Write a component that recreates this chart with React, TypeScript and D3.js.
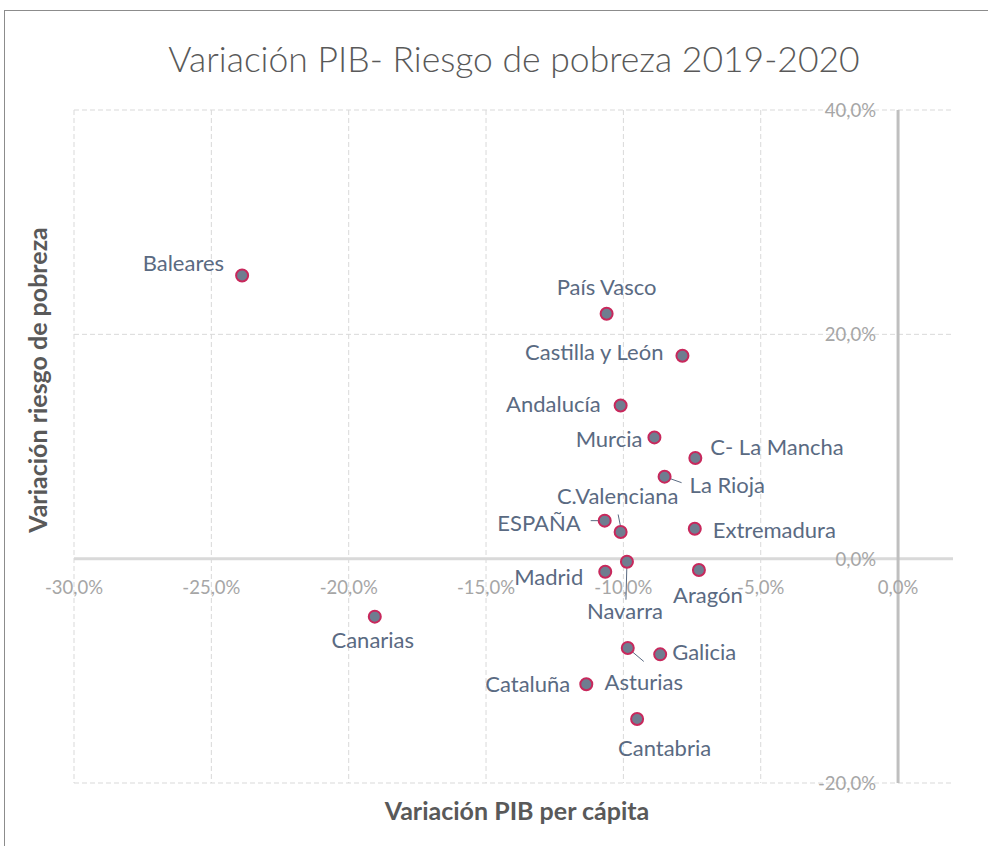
import * as d3 from "d3";

const regions = [
  "Baleares", "País Vasco", "Castilla y León", "Andalucía", "Murcia",
  "C- La Mancha", "La Rioja", "C.Valenciana", "ESPAÑA", "Extremadura",
  "Madrid", "Navarra", "Aragón", "Canarias", "Asturias", "Galicia",
  "Cataluña", "Cantabria",
];
// variación PIB per cápita 2019-2020
const gdpChange = [
  -0.2388, -0.1061, -0.0785, -0.101, -0.0887, -0.0738, -0.085, -0.101,
  -0.1068, -0.074, -0.1066, -0.0987, -0.0725, -0.1905, -0.0984, -0.0866,
  -0.1135, -0.095,
];
// variación riesgo de pobreza 2019-2020
const povertyChange = [
  0.2525, 0.2184, 0.1809, 0.1366, 0.1081, 0.0897, 0.0731, 0.0238, 0.0339,
  0.0267, -0.0116, -0.0027, -0.0101, -0.0517, -0.0796, -0.0853, -0.112,
  -0.1429,
];
const xTicks = [-0.3, -0.25, -0.2, -0.15, -0.1, -0.05, 0];
const yTicks = [-0.2, 0, 0.2, 0.4];

// label placement relative to the marker (px), plus optional leader line
const labelPos: Record<string, { dx: number; dy: number; anchor: string; leader?: number[] }> = {
  Baleares: { dx: -18, dy: -13, anchor: "end" },
  "País Vasco": { dx: 0, dy: -27, anchor: "middle" },
  "Castilla y León": { dx: -19, dy: -4, anchor: "end" },
  Andalucía: { dx: -20, dy: -2, anchor: "end" },
  Murcia: { dx: -12, dy: 1, anchor: "end" },
  "C- La Mancha": { dx: 15, dy: -12, anchor: "start" },
  "La Rioja": { dx: 25, dy: 8, anchor: "start", leader: [0, 0, 17, 6] },
  "C.Valenciana": { dx: -3, dy: -36, anchor: "middle", leader: [-2.5, -17.5, 0, -5] },
  ESPAÑA: { dx: -24, dy: 2, anchor: "end", leader: [-14, 0, -4, 0] },
  Extremadura: { dx: 18, dy: 1, anchor: "start" },
  Madrid: { dx: -22, dy: 5, anchor: "end" },
  Navarra: { dx: -2, dy: 49, anchor: "middle", leader: [0, 1, -1, 38] },
  Aragón: { dx: 9, dy: 25, anchor: "middle" },
  Canarias: { dx: -2, dy: 23, anchor: "middle" },
  Asturias: { dx: 16, dy: 34, anchor: "middle", leader: [0, 0, 16, 13.5] },
  Galicia: { dx: 12, dy: -3, anchor: "start" },
  Cataluña: { dx: -16, dy: -1, anchor: "end" },
  Cantabria: { dx: 27.5, dy: 29, anchor: "middle" },
};

const width = 988;
const height = 846;
const font = "Lato, 'Open Sans', sans-serif";
const labelColor = "#5a6a82";

const locale = d3.formatLocale({
  decimal: ",",
  thousands: ".",
  grouping: [3],
  currency: ["", "€"],
  minus: "-",
});
const pct = locale.format(".1%");

export default function App() {
  const x = d3.scaleLinear([-0.3, 0.02], [74, 953]);
  const y = d3.scaleLinear([-0.2, 0.4], [783, 110]);
  const [y0, y1] = y.range();
  const [x0, x1] = x.range();

  return (
    <svg
      width={width}
      height={height}
      style={{ position: "absolute", left: 0, top: 0, background: "#fff" }}
      fontFamily={font}
    >
      <rect x={4.5} y={10.5} width={width + 10} height={height} fill="#fff" stroke="#8c8c8c" />
      <text
        x={514}
        y={58}
        textAnchor="middle"
        dominantBaseline="central"
        fontSize={35.5}
        fontWeight={300}
        fill="#595959"
      >
        Variación PIB- Riesgo de pobreza 2019-2020
      </text>

      {/* grid */}
      <g stroke="#d9d9d9" strokeWidth={1} strokeDasharray="5,3">
        {xTicks.filter((t) => t !== 0).map((t) => (
          <line key={t} x1={x(t)} x2={x(t)} y1={y1} y2={y0} />
        ))}
        {yTicks.filter((t) => t !== 0).map((t) => (
          <line key={t} x1={x0} x2={x1} y1={y(t)} y2={y(t)} />
        ))}
      </g>

      {/* axes through zero */}
      <line x1={x0} x2={x1} y1={y(0)} y2={y(0)} stroke="#d9d9d9" strokeWidth={3} />
      <line x1={x(0)} x2={x(0)} y1={y1} y2={y0} stroke="#bfbfbf" strokeWidth={3} />

      <g fill="#a6a6a6" fontSize={18.5}>
        {xTicks.map((t) => (
          <text key={t} x={x(t)} y={y(0) + 28} textAnchor="middle" dominantBaseline="central">
            {pct(t)}
          </text>
        ))}
        {yTicks.map((t) => (
          <text key={t} x={x(0) - 22} y={y(t)} textAnchor="end" dominantBaseline="central">
            {pct(t)}
          </text>
        ))}
      </g>

      {/* leader lines */}
      <g stroke={labelColor} strokeWidth={1}>
        {regions.map((r, i) => {
          const p = labelPos[r];
          if (!p.leader) return null;
          const cx = x(gdpChange[i]);
          const cy = y(povertyChange[i]);
          return (
            <line
              key={r}
              x1={cx + p.leader[0]}
              y1={cy + p.leader[1]}
              x2={cx + p.leader[2]}
              y2={cy + p.leader[3]}
            />
          );
        })}
      </g>

      {/* points */}
      <g fill="#6f7d90" stroke="#c8285c" strokeWidth={2}>
        {regions.map((r, i) => (
          <circle key={r} cx={x(gdpChange[i])} cy={y(povertyChange[i])} r={6} />
        ))}
      </g>

      {/* data labels */}
      <g fill={labelColor} fontSize={22}>
        {regions.map((r, i) => {
          const p = labelPos[r];
          return (
            <text
              key={r}
              x={x(gdpChange[i]) + p.dx}
              y={y(povertyChange[i]) + p.dy}
              textAnchor={p.anchor}
              dominantBaseline="central"
            >
              {r}
            </text>
          );
        })}
      </g>

      <text
        x={517}
        y={810}
        textAnchor="middle"
        dominantBaseline="central"
        fontSize={25}
        fontWeight={700}
        fill="#595959"
      >
        Variación PIB per cápita
      </text>
      <text
        transform="translate(37,380) rotate(-90)"
        textAnchor="middle"
        dominantBaseline="central"
        fontSize={25}
        fontWeight={700}
        fill="#595959"
      >
        Variación riesgo de pobreza
      </text>
    </svg>
  );
}
